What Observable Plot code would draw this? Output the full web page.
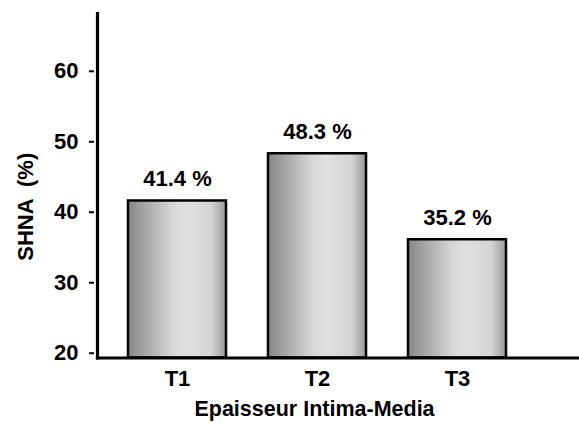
<!DOCTYPE html>
<html>
<head>
<meta charset="utf-8">
<script src="https://cdn.jsdelivr.net/npm/d3@7"></script>
<script src="https://cdn.jsdelivr.net/npm/@observablehq/plot@0.6"></script>
<style>
  html, body { margin: 0; padding: 0; background: #fff; }
  svg { display: block; }
</style>
</head>
<body>
<div id="chart"></div>
<script>
const categories = ["T1", "T2", "T3"];
const values = [41.6, 48.3, 36.1];
const valueLabels = ["41.4 %", "48.3 %", "35.2 %"];
const yTicks = [20, 30, 40, 50, 60];
const xTitle = "Epaisseur Intima-Media";
const yTitle = "SHNA  (%)";

const yMin = 19.32, yMax = 68.2;
const data = categories.map((c, i) => ({cat: c, value: values[i], label: valueLabels[i]}));
const font = "'Liberation Sans', Arial, sans-serif";

const chart = Plot.plot({
  width: 579,
  height: 423,
  marginLeft: 97,
  marginRight: 0,
  marginTop: 13,
  marginBottom: 65.5,
  style: {fontFamily: font, fontWeight: "bold", color: "#000", background: "#fff"},
  x: {domain: categories, paddingInner: 0.3, paddingOuter: 0.364, align: 0.3, axis: null},
  y: {domain: [yMin, yMax], axis: null},
  marks: [
    Plot.barY(data, {x: "cat", y1: yMin, y2: "value", fill: "url(#barGrad)", stroke: "#000", strokeWidth: 2.5}),
    Plot.axisX({tickSize: 0, tickPadding: 12, fontSize: 22, label: null}),
    Plot.axisY(yTicks, {tickSize: 5, tickPadding: 11, dx: -3, strokeWidth: 2, fontSize: 22, label: null}),
    Plot.frame({anchor: "left", strokeWidth: 3.2}),
    Plot.frame({anchor: "bottom", strokeWidth: 3.2}),
    Plot.text(data, {x: "cat", y: "value", text: "label", dy: -22, fontSize: 22, fontWeight: "bold"}),
    Plot.text([xTitle], {x: () => "T2", frameAnchor: "bottom", dy: 51.5, dx: -3, text: d => d, fontSize: 21.5, fontWeight: "bold", lineAnchor: "middle", textAnchor: "middle"}),
    Plot.text([yTitle], {frameAnchor: "left", rotate: -90, dx: -72, dy: 21, text: d => d, fontSize: 22, fontWeight: "bold", lineAnchor: "middle", textAnchor: "middle"})
  ]
});

const svgNS = "http://www.w3.org/2000/svg";
const defs = document.createElementNS(svgNS, "defs");
const grad = document.createElementNS(svgNS, "linearGradient");
grad.setAttribute("id", "barGrad");
grad.setAttribute("x1", "0"); grad.setAttribute("x2", "1");
grad.setAttribute("y1", "0"); grad.setAttribute("y2", "0");
[["0%", "#878787"], ["45%", "#d6d6d6"], ["60%", "#e0e0e0"], ["85%", "#d4d4d4"], ["100%", "#999999"]].forEach(([o, c]) => {
  const s = document.createElementNS(svgNS, "stop");
  s.setAttribute("offset", o);
  s.setAttribute("stop-color", c);
  grad.appendChild(s);
});
defs.appendChild(grad);
chart.insertBefore(defs, chart.firstChild);
document.getElementById("chart").appendChild(chart);
</script>
</body>
</html>
